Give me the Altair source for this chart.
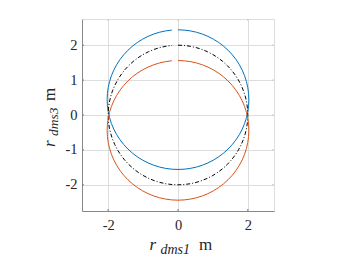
import numpy as np
import pandas as pd
import altair as alt

# curve parameters
series = ["blue", "black", "red"]
center_y = [0.44, 0.0, -0.44]
radius_x = [2.03, 2.0, 2.03]
radius_y = [2.0, 2.0, 2.0]
angles_deg = list(range(0, 360, 5))  # open at the top (last point 355 deg)

x_ticks = [-2, 0, 2]
y_ticks = [-2, -1, 0, 1, 2]

W, H = 192, 192
FONT = "Liberation Serif"
AX = "#7a7a7a"

def curve(i):
    t = np.radians(angles_deg)
    return pd.DataFrame({
        "x": radius_x[i] * np.sin(t),
        "y": center_y[i] + radius_y[i] * np.cos(t),
        "o": np.arange(len(angles_deg)),
    })

xs = alt.Scale(domain=[-2.75, 2.75], nice=False, zero=False)
ys = alt.Scale(domain=[-2.75, 2.75], nice=False, zero=False)
xax = alt.Axis(values=x_ticks, title=None, labelExpr="datum.value + ''",
               grid=True, ticks=False, labelPadding=7,
               labelFont=FONT, labelFontSize=14.5, labelColor="#262626")
yax = alt.Axis(values=y_ticks, title=None, labelExpr="datum.value + ''",
               grid=True, ticks=False, labelPadding=5,
               labelFont=FONT, labelFontSize=14.5, labelColor="#262626")

def line(i, color, dash=None):
    kw = dict(color=color, strokeWidth=1.0, clip=True)
    if dash:
        kw["strokeDash"] = dash
    return alt.Chart(curve(i)).mark_line(**kw).encode(
        x=alt.X("x:Q", scale=xs, axis=xax),
        y=alt.Y("y:Q", scale=ys, axis=yax),
        order="o:Q",
    )

blue = line(0, "#0072BD")
black = line(1, "#000000", [4, 2, 1, 2])
red = line(2, "#D95319")

xt = pd.DataFrame({"v": x_ticks})
yt = pd.DataFrame({"v": y_ticks})
tick_b = alt.Chart(xt).mark_rule(color=AX, strokeWidth=1).encode(
    x=alt.X("v:Q", scale=xs), y=alt.value(H), y2=alt.value(H - 2))
tick_t = alt.Chart(xt).mark_rule(color="#c8c8c8", strokeWidth=1).encode(
    x=alt.X("v:Q", scale=xs), y=alt.value(0), y2=alt.value(2))
tick_l = alt.Chart(yt).mark_rule(color=AX, strokeWidth=1).encode(
    y=alt.Y("v:Q", scale=ys), x=alt.value(0), x2=alt.value(2))
tick_r = alt.Chart(yt).mark_rule(color="#c8c8c8", strokeWidth=1).encode(
    y=alt.Y("v:Q", scale=ys), x=alt.value(W), x2=alt.value(W - 2))

# axis titles, r_{dms1} m and r_{dms3} m
def txt(s, x, y, size, italic, angle=0):
    return alt.Chart(pd.DataFrame({"t": [s]})).mark_text(
        font=FONT, fontSize=size, fontStyle="italic" if italic else "normal",
        align="left", baseline="alphabetic", angle=angle, color="#262626",
    ).encode(text="t:N", x=alt.value(x), y=alt.value(y))

titles = [
    txt("r", 67.5, 231, 17, True),
    txt("dms1", 78.5, 234.5, 14, True),
    txt("m", 117, 231, 17, False),
    txt("r", -27.3, 128, 17, True, 270),
    txt("dms3", -24, 117, 13.5, True, 270),
    txt("m", -27.3, 82, 17, False, 270),
]

chart = alt.layer(blue, black, red, tick_b, tick_t, tick_l, tick_r, *titles).properties(
    width=W, height=H,
    autosize=alt.AutoSizeParams(type="none"),
    padding={"left": 74, "top": 11, "right": 62, "bottom": 46},
).configure_view(stroke="#c8c8c8", strokeWidth=1).configure_axis(
    gridColor="#e6e6e6", gridWidth=1, domainColor=AX, domainWidth=1,
    labelFont=FONT, labelFontSize=14.5, labelColor="#262626",
).configure(background="white")

chart.save("out.html", embed_options={"renderer": "svg", "actions": False})
